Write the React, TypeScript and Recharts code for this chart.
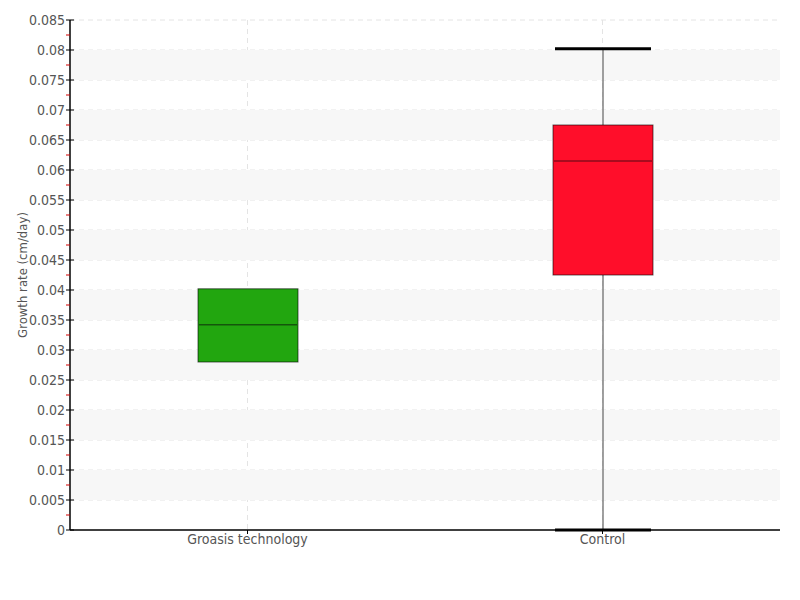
import { ComposedChart, Bar, XAxis, YAxis, CartesianGrid, ReferenceArea, Label } from 'recharts';

const categories = ['Groasis technology', 'Control'];
const mins = [0.028, 0];
const q1s = [0.028, 0.0425];
const medians = [0.0342, 0.0615];
const q3s = [0.0402, 0.0675];
const maxs = [0.0402, 0.0802];
const boxColors = ['#22a60f', '#ff0e2a'];
const medianColors = ['#14560c', '#8c0b1b'];

const majorTicks = [0, 0.005, 0.01, 0.015, 0.02, 0.025, 0.03, 0.035, 0.04, 0.045, 0.05, 0.055, 0.06, 0.065, 0.07, 0.075, 0.08, 0.085];
const minorTicks = [0.0025, 0.0075, 0.0125, 0.0175, 0.0225, 0.0275, 0.0325, 0.0375, 0.0425, 0.0475, 0.0525, 0.0575, 0.0625, 0.0675, 0.0725, 0.0775, 0.0825];

const data = categories.map((name, i) => ({
  name,
  range: [mins[i], maxs[i]],
  min: mins[i],
  q1: q1s[i],
  median: medians[i],
  q3: q3s[i],
  max: maxs[i],
  idx: i,
}));

const FONT = "'Liberation Sans Narrow', 'DejaVu Sans Condensed', 'Roboto Condensed', sans-serif";

// stripes between every other pair of major ticks
const bands = majorTicks.slice(0, -1).map((t, i) => [t, majorTicks[i + 1]]).filter((_, i) => i % 2 === 1 && i < majorTicks.length - 2);

function BoxShape(props: any) {
  const { x, y, width, height, payload } = props;
  const { min, max, q1, q3, median, idx } = payload;
  const px = (v: number) => y + (height * (max - v)) / (max - min);
  const cx = x + width / 2;
  const top = px(q3);
  const bottom = px(q1);
  return (
    <g>
      {max > q3 && <line x1={cx} x2={cx} y1={px(max)} y2={top} stroke="#808080" strokeWidth={1.5} />}
      {min < q1 && <line x1={cx} x2={cx} y1={bottom} y2={px(min)} stroke="#808080" strokeWidth={1.5} />}
      {max > q3 && <line x1={x + 2} x2={x + width - 2} y1={px(max)} y2={px(max)} stroke="#000" strokeWidth={3} />}
      {min < q1 && <line x1={x + 2} x2={x + width - 2} y1={px(min)} y2={px(min)} stroke="#000" strokeWidth={3} />}
      <rect x={x} y={top} width={width} height={bottom - top} fill={boxColors[idx]} stroke="rgba(0,0,0,0.6)" strokeWidth={1} />
      <line x1={x + 1} x2={x + width - 1} y1={px(median)} y2={px(median)} stroke={medianColors[idx]} strokeWidth={1.5} />
    </g>
  );
}

function YTick(props: any) {
  const { x, y, payload } = props;
  const v = payload.value;
  const minor = minorTicks.includes(v);
  if (minor) {
    return <line x1={x - 4} x2={x} y1={y} y2={y} stroke="#d00000" strokeWidth={1} />;
  }
  return (
    <g>
      <line x1={x - 4} x2={x + 4} y1={y} y2={y} stroke="#000" strokeWidth={1} />
      <text x={x - 5} y={y} dy="0.35em" textAnchor="end" fill="#555" fontSize={14} fontFamily={FONT}>
        {String(v)}
      </text>
    </g>
  );
}

export default function App() {
  return (
    <div style={{ position: 'absolute', left: 0, top: 0, width: 800, height: 600, background: '#fff' }}>
      <ComposedChart width={800} height={600} data={data} margin={{ top: 20, right: 20, left: 0, bottom: 40 }}>
        {bands.map(([a, b]) => (
          <ReferenceArea key={a} y1={a} y2={b} fill="#f7f7f7" fillOpacity={1} stroke="none" ifOverflow="visible" />
        ))}
        <CartesianGrid
          stroke="#e4e4e4"
          strokeDasharray="5 4"
          horizontalValues={majorTicks.slice(1)}
          verticalValues={categories}
        />
        <XAxis
          dataKey="name"
          height={30}
          axisLine={{ stroke: '#000', strokeWidth: 1.5 }}
          tickLine={{ stroke: '#000' }}
          tickSize={4}
          tickMargin={0}
          tick={{ fill: '#555', fontSize: 14, fontFamily: FONT }}
        />
        <YAxis
          width={70}
          domain={[0, 0.085]}
          ticks={[...majorTicks, ...minorTicks].sort((a, b) => a - b)}
          interval={0}
          axisLine={{ stroke: '#000', strokeWidth: 1.5 }}
          tickLine={false}
          tickSize={0}
          tickMargin={0}
          tick={<YTick />}
        >
          <Label
            value="Growth rate (cm/day)"
            angle={-90}
            position="insideLeft"
            offset={22}
            style={{ textAnchor: 'middle', fill: '#555', fontSize: 13, fontFamily: FONT }}
          />
        </YAxis>
        <Bar dataKey="range" barSize={100} shape={<BoxShape />} isAnimationActive={false} />
      </ComposedChart>
    </div>
  );
}
